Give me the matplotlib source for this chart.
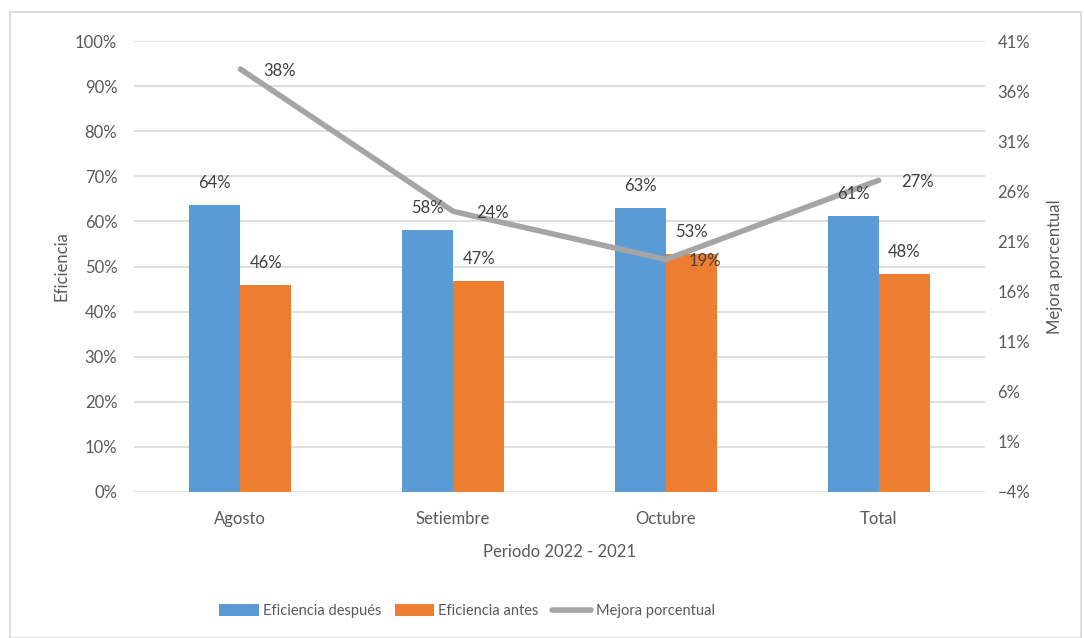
import matplotlib.pyplot as plt
from matplotlib.patches import Rectangle
from matplotlib.ticker import PercentFormatter

plt.rcParams['font.family'] = ['Lato', 'DejaVu Sans']

# Data
categorias = ["Agosto", "Setiembre", "Octubre", "Total"]
ef_despues = [0.636, 0.580, 0.629, 0.613]
ef_antes = [0.460, 0.467, 0.527, 0.483]
mejora = [0.382, 0.240, 0.192, 0.271]

azul = "#5B9BD5"
naranja = "#ED7D31"
gris = "#A5A5A5"
texto = "#595959"

fig = plt.figure(figsize=(10.84, 6.38), dpi=100)
fig.patches.append(Rectangle((10 / 1084, 0), 1071 / 1084, 626 / 638, transform=fig.transFigure,
                             fill=False, edgecolor="#D9D9D9", linewidth=1.2))

ax = fig.add_axes([134 / 1084, 146 / 638, 851 / 1084, 451 / 638])
x = list(range(len(categorias)))
w = 0.24
b1 = ax.bar([i - w / 2 for i in x], ef_despues, w, color=azul, label="Eficiencia después", zorder=2)
b2 = ax.bar([i + w / 2 for i in x], ef_antes, w, color=naranja, label="Eficiencia antes", zorder=2)

ax.set_xlim(-0.5, 3.5)
ax.set_ylim(0, 1.0)
ax.set_yticks([i / 10 for i in range(11)])
ax.yaxis.set_major_formatter(PercentFormatter(1.0, decimals=0))
ax.grid(axis="y", color="#D9D9D9", linewidth=1.2, zorder=0)
ax.set_axisbelow(True)
for s in ax.spines.values():
    s.set_visible(False)
ax.tick_params(axis="y", length=0, labelsize=12, colors=texto, pad=12)
ax.tick_params(axis="x", length=0, labelsize=12, colors=texto, pad=14)
ax.set_xticks(x)
ax.set_xticklabels(categorias)
ax.set_xlabel("Periodo 2022 - 2021", fontsize=12, color=texto, labelpad=12)
ax.set_ylabel("Eficiencia", fontsize=12, color=texto, labelpad=4)

ax2 = ax.twinx()
ax2.plot(x, mejora, color=gris, linewidth=4, solid_capstyle="round", label="Mejora porcentual", zorder=3)
ax2.set_ylim(-0.04, 0.41)
ax2.set_yticks([(-4 + 5 * i) / 100 for i in range(10)])
ax2.yaxis.set_major_formatter(PercentFormatter(1.0, decimals=0))
for s in ax2.spines.values():
    s.set_visible(False)
ax2.tick_params(length=0, labelsize=12, colors=texto, pad=9)
ax2.set_ylabel("Mejora porcentual", fontsize=12, color=texto, labelpad=12)

# bar labels drawn on the top axes so the line stays beneath them
for bars in (b1, b2):
    for r in bars:
        ax2.annotate(f"{r.get_height():.0%}", (r.get_x() + r.get_width() / 2, r.get_height()),
                     xycoords=ax.transData, xytext=(0, 22), textcoords="offset pixels",
                     ha="center", va="center", fontsize=12, color="#404040", zorder=5)

for i, v in zip(x, mejora):
    ax2.annotate(f"{v:.0%}", (i, v), xytext=(23, -2), textcoords="offset pixels",
                 ha="left", va="center", fontsize=12, color="#404040", zorder=5)

h1, l1 = ax.get_legend_handles_labels()
h2, l2 = ax2.get_legend_handles_labels()
fig.legend(h1 + h2, l1 + l2, loc="center", bbox_to_anchor=(467 / 1084, 27 / 638), ncol=3, frameon=False,
           fontsize=10.5, labelcolor=texto, handlelength=2.7, handleheight=0.8,
           handletextpad=0.3, columnspacing=0.9)

fig.savefig("out.png", dpi=100)
